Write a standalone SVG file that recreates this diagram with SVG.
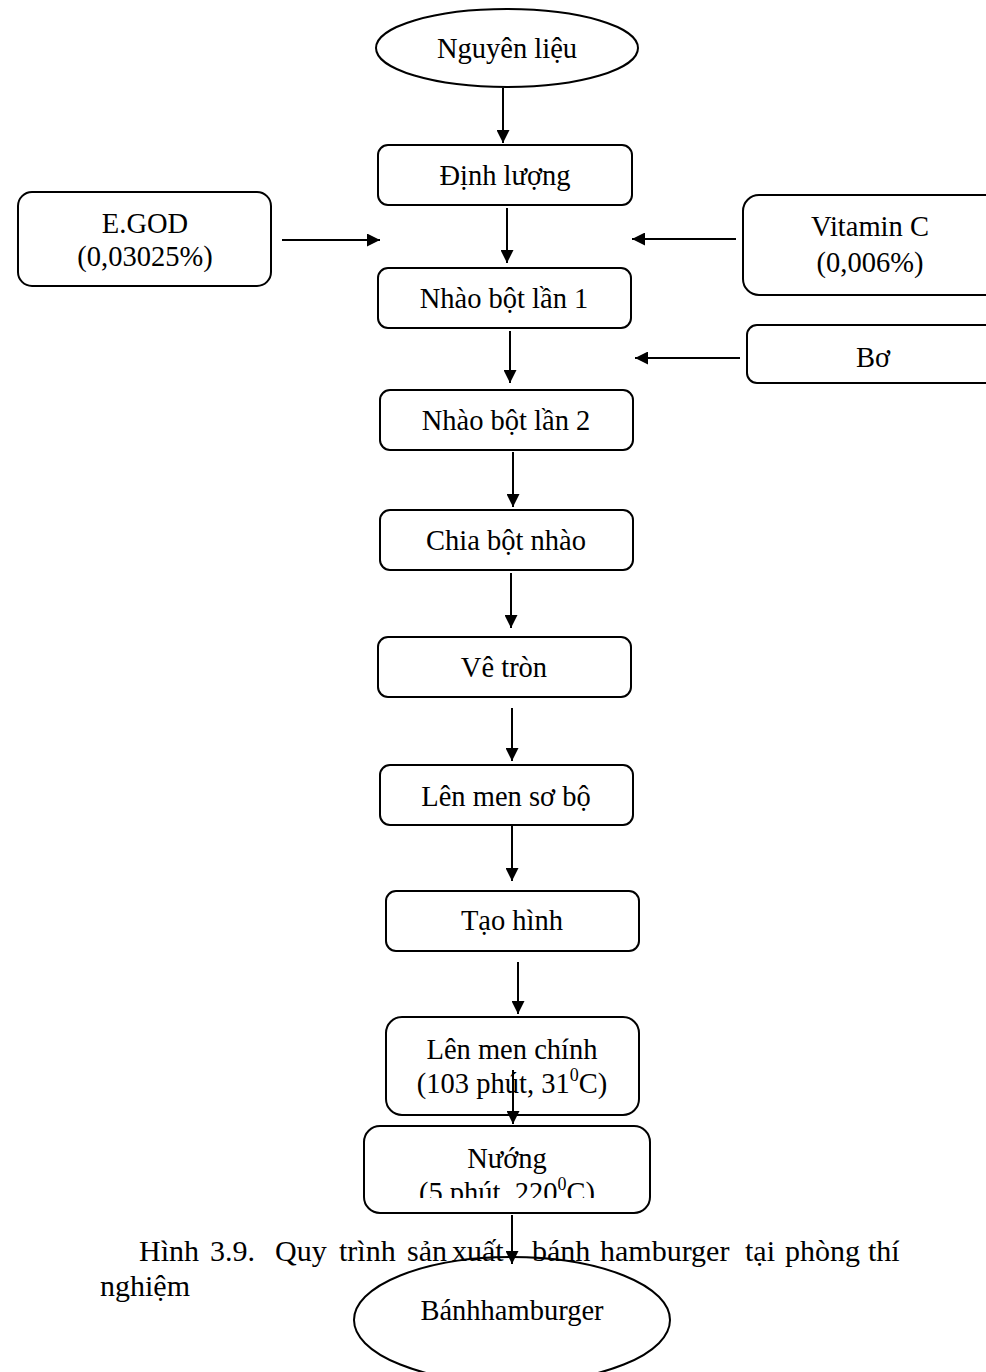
<svg xmlns="http://www.w3.org/2000/svg" width="986" height="1372" viewBox="0 0 986 1372">
<style>
.n{fill:#fff;stroke:#000;stroke-width:2}
.t{font-family:"Liberation Serif","Times New Roman",serif;font-size:28.5px;fill:#000;text-anchor:middle}
.c{font-family:"Liberation Serif","Times New Roman",serif;font-size:30px;fill:#000}
.e line{stroke:#000;stroke-width:2;marker-end:url(#ah)}
</style>
<defs>
<marker id="ah" viewBox="0 0 10 10" refX="10" refY="5" markerWidth="14" markerHeight="13" markerUnits="userSpaceOnUse" orient="auto"><path d="M0,0 L10,5 L0,10 z" fill="#000"/></marker>
<clipPath id="cn"><rect x="364" y="1126" width="286" height="72"/></clipPath>
</defs>
<rect width="986" height="1372" fill="#fff"/>
<g id="nguyen-lieu"><ellipse class="n" cx="507" cy="48" rx="131" ry="39"/><text class="t" x="507" y="58">Nguyên liệu</text></g>
<g id="dinh-luong"><rect class="n" x="378" y="145" width="254" height="60" rx="10"/><text class="t" x="505" y="185">Định lượng</text></g>
<g id="egod"><rect class="n" x="18" y="192" width="253" height="94" rx="14"/><text class="t" x="145" y="233">E.GOD</text><text class="t" x="145" y="266">(0,03025%)</text></g>
<g id="vitamin-c"><rect class="n" x="743" y="195" width="260" height="100" rx="16"/><text class="t" x="870" y="236">Vitamin C</text><text class="t" x="870" y="272">(0,006%)</text></g>
<g id="nhao-1"><rect class="n" x="378" y="268" width="253" height="60" rx="10"/><text class="t" x="504" y="308">Nhào bột lần 1</text></g>
<g id="bo"><rect class="n" x="747" y="325" width="260" height="58" rx="10"/><text class="t" x="873" y="367">Bơ</text></g>
<g id="nhao-2"><rect class="n" x="380" y="390" width="253" height="60" rx="10"/><text class="t" x="506" y="430">Nhào bột lần 2</text></g>
<g id="chia"><rect class="n" x="380" y="510" width="253" height="60" rx="10"/><text class="t" x="506" y="550">Chia bột nhào</text></g>
<g id="ve-tron"><rect class="n" x="378" y="637" width="253" height="60" rx="10"/><text class="t" x="504" y="677">Vê tròn</text></g>
<g id="len-men-so-bo"><rect class="n" x="380" y="765" width="253" height="60" rx="10"/><text class="t" x="506" y="806">Lên men sơ bộ</text></g>
<g id="tao-hinh"><rect class="n" x="386" y="891" width="253" height="60" rx="10"/><text class="t" x="512" y="930">Tạo hình</text></g>
<g id="len-men-chinh"><rect class="n" x="386" y="1017" width="253" height="98" rx="16"/><text class="t" x="512" y="1059">Lên men chính</text><text class="t" x="512" y="1093">(103 phút, 31<tspan font-size="18" dy="-12">0</tspan><tspan dy="12">C)</tspan></text></g>
<g id="nuong"><rect class="n" x="364" y="1126" width="286" height="87" rx="16"/><text class="t" x="507" y="1168">Nướng</text><text class="t" x="507" y="1202" clip-path="url(#cn)">(5 phút, 220<tspan font-size="18" dy="-12">0</tspan><tspan dy="12">C)</tspan></text></g>
<g id="banh"><ellipse cx="512" cy="1320" rx="158" ry="63" fill="none" stroke="#000" stroke-width="2"/><text class="t" x="512" y="1320">Bánhhamburger</text></g>
<g id="caption">
<text class="c" y="1261"><tspan x="139">Hình</tspan><tspan x="210">3.9.</tspan><tspan x="275">Quy</tspan><tspan x="339">trình</tspan><tspan x="407">sản</tspan><tspan x="452">xuất</tspan><tspan x="532">bánh</tspan><tspan x="600">hamburger</tspan><tspan x="745">tại</tspan><tspan x="785">phòng</tspan><tspan x="868">thí</tspan></text>
<text class="c" x="100" y="1296">nghiệm</text>
</g>
<g id="connectors" class="e">
<line x1="503" y1="88" x2="503" y2="143"/>
<line x1="507" y1="208" x2="507" y2="263"/>
<line x1="282" y1="240" x2="380" y2="240"/>
<line x1="736" y1="239" x2="632" y2="239"/>
<line x1="510" y1="331" x2="510" y2="383"/>
<line x1="740" y1="358" x2="635" y2="358"/>
<line x1="513" y1="452" x2="513" y2="507"/>
<line x1="511" y1="573" x2="511" y2="628"/>
<line x1="512" y1="708" x2="512" y2="761"/>
<line x1="512" y1="826" x2="512" y2="881"/>
<line x1="518" y1="962" x2="518" y2="1014"/>
<line x1="513" y1="1070" x2="513" y2="1124"/>
<line x1="512" y1="1215" x2="512" y2="1264"/>
</g>
</svg>
